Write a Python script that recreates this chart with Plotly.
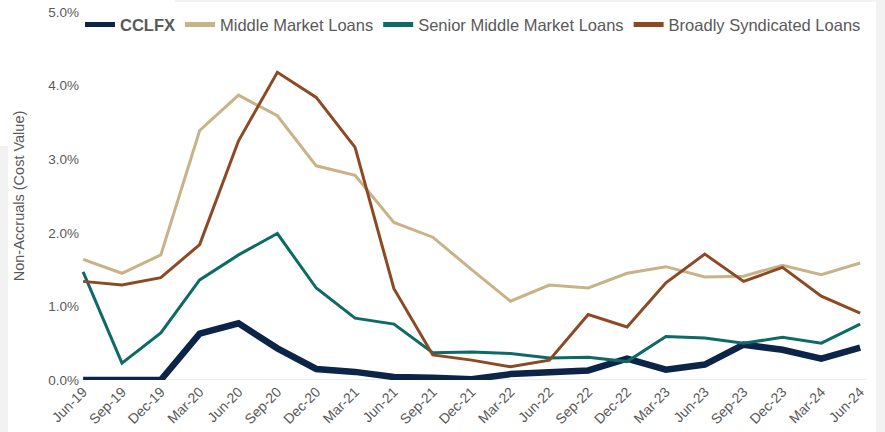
import plotly.graph_objects as go

categories = ["Jun-19", "Sep-19", "Dec-19", "Mar-20", "Jun-20", "Sep-20", "Dec-20",
              "Mar-21", "Jun-21", "Sep-21", "Dec-21", "Mar-22", "Jun-22", "Sep-22",
              "Dec-22", "Mar-23", "Jun-23", "Sep-23", "Dec-23", "Mar-24", "Jun-24"]

cclfx = [0.00, 0.00, 0.00, 0.63, 0.77, 0.43, 0.15, 0.11, 0.04, 0.03, 0.01,
         0.08, 0.10, 0.13, 0.29, 0.14, 0.21, 0.48, 0.41, 0.29, 0.44]
middle_market = [1.64, 1.45, 1.70, 3.39, 3.87, 3.59, 2.91, 2.78, 2.14, 1.94, 1.50,
                 1.07, 1.29, 1.25, 1.45, 1.54, 1.40, 1.41, 1.56, 1.43, 1.59]
senior_mm = [1.47, 0.23, 0.64, 1.36, 1.70, 1.99, 1.25, 0.84, 0.76, 0.37, 0.38,
             0.36, 0.30, 0.31, 0.25, 0.59, 0.57, 0.50, 0.58, 0.50, 0.76]
broadly_synd = [1.34, 1.29, 1.39, 1.84, 3.25, 4.18, 3.84, 3.16, 1.24, 0.34, 0.27,
                0.18, 0.27, 0.89, 0.72, 1.32, 1.71, 1.34, 1.53, 1.14, 0.91]

y_ticks = [0, 1, 2, 3, 4, 5]

series = [
    ("<b>CCLFX</b>", cclfx, "#0b2447", 6.5),
    ("Middle Market Loans", middle_market, "#c8b288", 3),
    ("Senior Middle Market Loans", senior_mm, "#0e6a66", 3),
    ("Broadly Syndicated Loans", broadly_synd, "#8c4a24", 3),
]

fig = go.Figure()
for name, vals, color, w in series:
    fig.add_trace(go.Scatter(x=categories, y=vals, mode="lines", name=name,
                             line=dict(color=color, width=w)))

# plot area geometry in px for decoration shapes
L, R, T, B = 80, 866, 12, 380
def px(x):
    return (x - L) / (R - L)
def py(y):
    return (B - y) / (B - T)

shapes = [
    dict(type="line", xref="paper", yref="y", x0=0, x1=1, y0=0, y1=0,
         line=dict(color="#d9d9d9", width=1), layer="below"),
    dict(type="rect", xref="paper", yref="paper", x0=px(175), x1=px(890), y0=py(-5), y1=py(2),
         fillcolor="#f2f2f2", line=dict(width=0), layer="below"),
    dict(type="rect", xref="paper", yref="paper", x0=px(876), x1=px(890), y0=py(-5), y1=py(440),
         fillcolor="#f2f2f2", line=dict(width=0), layer="below"),
    dict(type="rect", xref="paper", yref="paper", x0=px(-5), x1=px(8), y0=py(146), y1=py(440),
         fillcolor="#f2f2f2", line=dict(width=0), layer="below"),
]

fig.update_layout(
    width=885, height=432,
    margin=dict(l=L, r=885 - R, t=T, b=432 - B, autoexpand=False),
    paper_bgcolor="white", plot_bgcolor="white",
    font=dict(family="Liberation Sans, Arial, sans-serif", color="#595959", size=13),
    showlegend=True,
    legend=dict(orientation="h", x=0.0, xanchor="left", y=1.013, yanchor="top",
                font=dict(size=16.5, color="#595959"), bgcolor="rgba(0,0,0,0)",
                itemwidth=30, tracegroupgap=0, itemsizing="constant"),
    xaxis=dict(type="category", range=[-0.08, 20.15], showgrid=False, zeroline=False,
               showline=False, ticks="", tickangle=-45, automargin=False,
               tickfont=dict(size=14, color="#595959")),
    yaxis=dict(range=[0, 5], tickvals=y_ticks, ticktext=[f"{v:.1f}%" for v in y_ticks],
               showgrid=False, zeroline=False, showline=False, ticks="", automargin=False,
               tickfont=dict(size=13.5, color="#595959"),
               title=dict(text="Non-Accruals (Cost Value)", font=dict(size=14.5, color="#595959"),
                          standoff=20)),
    shapes=shapes,
)

fig.write_html("out.html")
